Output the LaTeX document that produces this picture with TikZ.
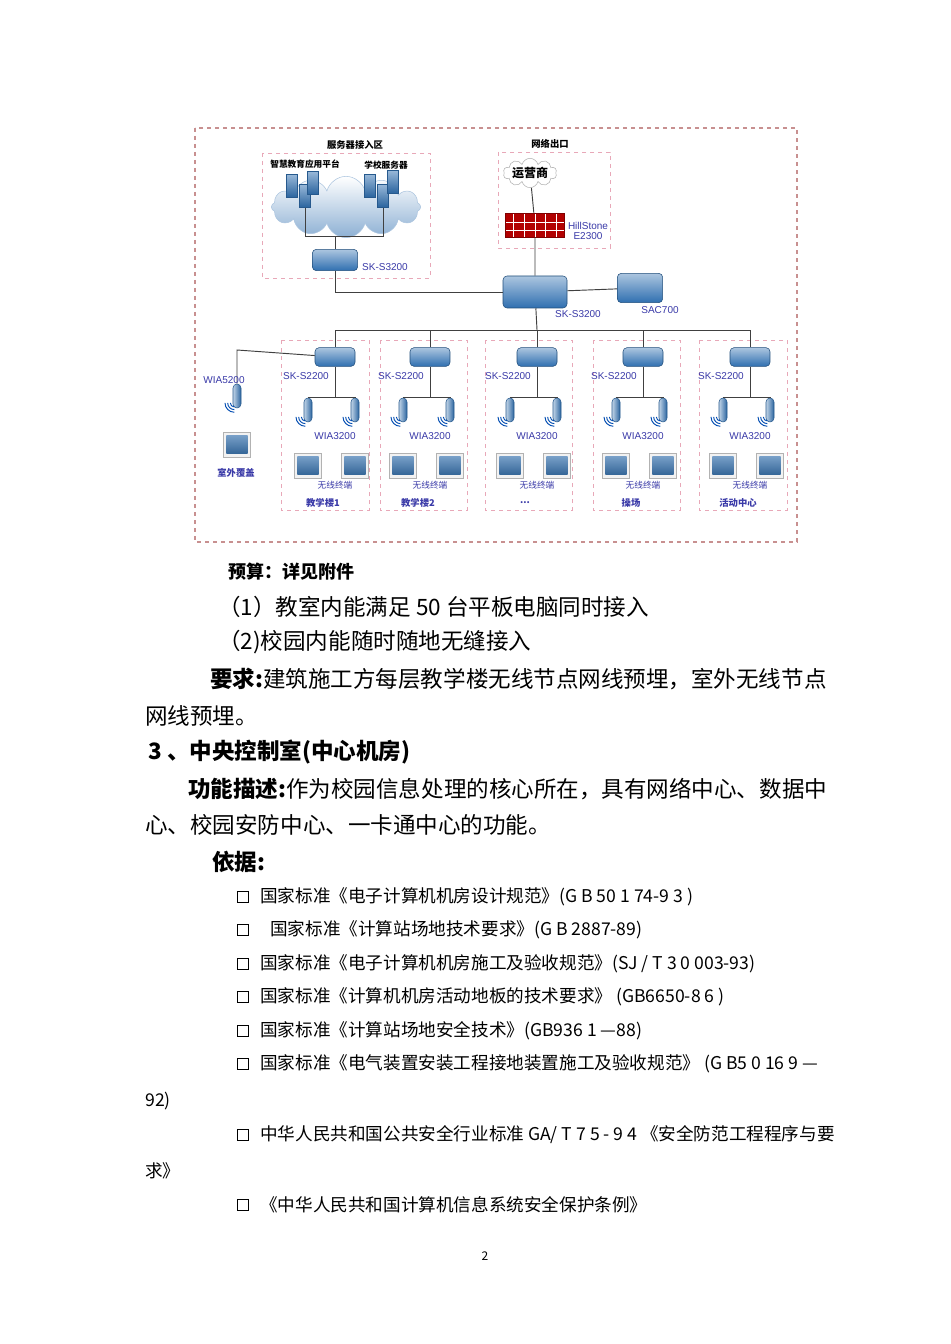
\documentclass[tikz,border=0pt]{standalone}
\usepackage{fontspec}
\setmainfont{Noto Sans CJK SC}
\newfontfamily\lab{Liberation Sans}
\usetikzlibrary{shapes.symbols,shadings}
\definecolor{lbl}{HTML}{3A3AA8}
\definecolor{swb}{HTML}{2F6FB0}
\definecolor{pk}{HTML}{E8A8B8}
\definecolor{frm}{HTML}{C89090}
\newcommand\mydots{...}
\tikzset{
 x=0.75pt,y=-0.75pt,
 swbox/.style={draw=swb!70!black,rounded corners=3pt,top color=swb!40!white,bottom color=swb,minimum width=34pt,minimum height=16pt,inner sep=0pt},
 sw2box/.style={swbox,minimum width=30pt,minimum height=14pt},
 apbox/.style={draw=swb!80!black,rounded corners=3pt,left color=swb!30!white,right color=swb!90!black,minimum width=6pt,minimum height=18pt,inner sep=0pt},
 tab/.style={draw=gray!60,fill=gray!10,minimum width=20pt,minimum height=19pt,inner sep=1.5pt,path picture={\fill[top color=swb!60!white,bottom color=swb!80!black]([shift={(2pt,-2pt)}]path picture bounding box.north west) rectangle ([shift={(-2pt,3pt)}]path picture bounding box.south east);}},
 lk/.style={draw=gray!50!black,line width=0.7pt},
 zone/.style={draw=pk,dashed,line width=0.6pt},
 dl/.style={font=\lab\fontsize{7.5}{8}\selectfont,text=lbl,inner sep=0pt},
 cl/.style={font=\fontsize{6.5}{7}\selectfont,text=lbl,inner sep=0pt},
 bl/.style={font=\fontsize{7}{8}\selectfont\bfseries,text=lbl,inner sep=0pt},
 hd/.style={font=\fontsize{7}{8}\selectfont\bfseries,inner sep=0pt},
 body/.style={anchor=west,font=\fontsize{16.9}{18}\selectfont,inner sep=0pt},
 bodyb/.style={body,font=\fontsize{16.9}{18}\selectfont\bfseries},
 std/.style={anchor=west,font=\fontsize{13.2}{14}\selectfont,inner sep=0pt},
 chk/.style={draw,line width=0.5pt,minimum size=8pt,inner sep=0pt},
 wave/.style={draw=teal!60!blue,line width=0.7pt}
}
\begin{document}
\begin{tikzpicture}
\useasboundingbox (0,0) rectangle (950,1344);
\fill[white] (0,0) rectangle (950,1344);
% frames
\draw[draw=frm,dashed,line width=0.8pt] (195,128) rectangle (797,542);
\draw[zone] (262,153) rectangle (430,278);
\draw[zone] (498,152) rectangle (610,248);
\foreach \a/\b in {281/369,380/467,485/572,593/680,699/787}{\draw[zone] (\a,340) rectangle (\b,510);}
\node[hd] (tsrv) at (355,145) {服务器接入区};
\node[hd] (texit) at (550,144) {网络出口};
% server cloud
\node[cloud,cloud puffs=12,aspect=2.6,inner sep=0pt,minimum width=112pt,minimum height=46pt,top color=white,bottom color=swb!55!white,draw=swb!40!white] (cld) at (346,207) {};
\node[hd,font=\fontsize{6.5}{7}\selectfont\bfseries] (t1) at (305,164) {智慧教育应用平台};
\node[hd,font=\fontsize{6.5}{7}\selectfont\bfseries] (t2) at (386,165) {学校服务器};
\foreach \i/\x/\y in {a/292/186,b/305/196,c/313/183,d/370/186,e/383/196,f/393/182}{
 \node[draw=swb!80!black,top color=swb!50!white,bottom color=swb!90!black,minimum width=8pt,minimum height=17pt,inner sep=0pt] (s\i) at (\x,\y) {};}
\coordinate (ja) at (305,236); \coordinate (jb) at (383,236);
\draw[lk] (sb) -- (ja) -- (jb) -- (se);
\node[swbox] (sw1) at (335,260) {};
\node[dl] (lsw1) at (385,267) {SK-S3200};
\coordinate (jm) at (335,236);
\draw[lk] (jm) -- (sw1);
% exit
\node[cloud,cloud puffs=10,aspect=1.8,inner sep=0pt,minimum width=40pt,minimum height=22pt,fill=white,draw=gray!60] (isp) at (530,173) {};
\node[font=\fontsize{9}{10}\selectfont\bfseries,inner sep=0pt] (tisp) at (530,173) {运营商};
\node[draw=red!50!black,fill=red!70!black,minimum width=44pt,minimum height=18pt,inner sep=0pt,
 path picture={\foreach \yy in {-4,2}{\draw[white,line width=0.5pt] ([yshift=\yy pt]path picture bounding box.west) -- ([yshift=\yy pt]path picture bounding box.east);}
 \foreach \xx in {-16,-8,0,8,16}{\draw[white,line width=0.5pt] ([xshift=\xx pt]path picture bounding box.south) -- ([xshift=\xx pt]path picture bounding box.north);}}] (fw) at (535,225) {};
\node[dl,align=center] (lfw) at (588,231) {HillStone\\E2300};
\node[swbox,minimum width=48pt,minimum height=24pt] (core) at (535,292) {};
\node[dl] (lcore) at (578,314) {SK-S3200};
\node[swbox,minimum width=34pt,minimum height=22pt] (sac) at (640,288) {};
\node[dl] (lsac) at (660,310) {SAC700};
\draw[lk] (isp) -- (fw) -- (core);
\draw[lk] (sw1) -- (335,292) -- (core);
\draw[lk] (core) -- (sac);
% distribution
\coordinate (bus) at (537,330);
\draw[lk] (core) -- (bus);
\draw[lk] (335,330) -- (750,330);
\foreach \n/\cx/\bt in {1/335/教学楼1,2/430/教学楼2,3/537/\mydots,4/643/操场,5/750/活动中心}{
 \node[sw2box] (as\n) at (\cx,357) {};
 \draw[lk] (\cx,330) -- (as\n);
 \node[dl,anchor=east] (las\n) at (\cx-6,376) {SK-S2200};
 \node[apbox] (apa\n) at (\cx-27,410) {};
 \node[apbox] (apb\n) at (\cx+20,410) {};
 \draw[lk] (as\n) -- (\cx,397) -- (\cx-27,397) -- (apa\n);
 \draw[lk] (\cx,397) -- (\cx+20,397) -- (apb\n);
 \foreach \r in {3,5,7}{\draw[wave] ([shift={(-2pt,4pt)}]apa\n.south) ++(180:\r pt) arc (180:270:\r pt);
  \draw[wave] ([shift={(-2pt,4pt)}]apb\n.south) ++(180:\r pt) arc (180:270:\r pt);}
 \node[dl] (lw\n) at (\cx,436) {WIA3200};
 \node[tab] (ta\n) at (\cx-27,466) {};
 \node[tab] (tb\n) at (\cx+20,466) {};
 \node[cl] (lt\n) at (\cx,485) {无线终端};
 \node[bl] (lb\n) at (\cx-12,503) {\bt};
}
% outdoor
\node[apbox] (apo) at (237,396) {};
\draw[lk] (as1) -- (237,350) -- (apo);
\foreach \r in {3,5,7}{\draw[wave] ([shift={(-2pt,4pt)}]apo.south) ++(180:\r pt) arc (180:270:\r pt);}
\node[dl] (lwo) at (224,380) {WIA5200};
\node[tab] (tao) at (237,445) {};
\node[bl] (lbo) at (236,473) {室外覆盖};
% text
\node[bodyb,font=\fontsize{13.5}{15}\selectfont\bfseries] (p0) at (228,572) {预算：详见附件};
\node[body] (p1) at (218,607) {（1）教室内能满足 50 台平板电脑同时接入};
\node[body] (p2) at (218,642) {（2)校园内能随时随地无缝接入};
\node[body] (p3) at (210,679) {\textbf{要求:}建筑施工方每层教学楼无线节点网线预埋，室外无线节点};
\node[body] (p4) at (145,716) {网线预埋。};
\node[bodyb] (p5) at (148,752) {3 、中央控制室(中心机房)};
\node[body] (p6) at (188,789) {\textbf{功能描述:}作为校园信息处理的核心所在，具有网络中心、数据中};
\node[body] (p7) at (145,825) {心、校园安防中心、一卡通中心的功能。};
\node[bodyb] (p8) at (212,862) {依据:};
\node[chk] (k1) at (243,897) {}; \node[std] (s1) at (260,897) {国家标准《电子计算机机房设计规范》(G B 50 1 74-9 3 )};
\node[chk] (k2) at (243,930) {}; \node[std] (s2) at (270,930) {国家标准《计算站场地技术要求》(G B 2887-89)};
\node[chk] (k3) at (243,964) {}; \node[std] (s3) at (260,964) {国家标准《电子计算机机房施工及验收规范》(SJ / T 3 0 003-93)};
\node[chk] (k4) at (243,997) {}; \node[std] (s4) at (260,997) {国家标准《计算机机房活动地板的技术要求》 (GB6650-8 6 )};
\node[chk] (k5) at (243,1031) {}; \node[std] (s5) at (260,1031) {国家标准《计算站场地安全技术》(GB936 1 —88)};
\node[chk] (k6) at (243,1064) {}; \node[std] (s6) at (260,1064) {国家标准《电气装置安装工程接地装置施工及验收规范》 (G B5 0 16 9 —};
\node[chk] (k7) at (243,1135) {}; \node[std] (s7) at (260,1135) {中华人民共和国公共安全行业标准 GA/ T 7 5 - 9 4 《安全防范工程程序与要};
\node[chk] (k8) at (243,1205) {}; \node[std] (s8) at (260,1205) {《中华人民共和国计算机信息系统安全保护条例》};
\node[std] (c1) at (145,1101) {92)};
\node[std] (c2) at (145,1171) {求》};
\node[font=\fontsize{9}{10}\selectfont,inner sep=0pt] (pg) at (485,1256) {2};
\end{tikzpicture}
\end{document}
